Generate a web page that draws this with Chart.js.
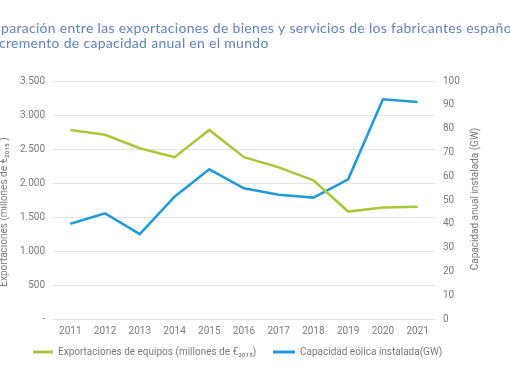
<!DOCTYPE html>
<html>
<head>
<meta charset="utf-8">
<script src="https://cdn.jsdelivr.net/npm/chart.js@4.4.0/dist/chart.umd.min.js"></script>
<style>
html,body{margin:0;padding:0;background:#fff;}
#wrap{width:510px;height:382px;position:relative;}
</style>
</head>
<body>
<div id="wrap"><canvas id="c" width="510" height="382"></canvas></div>
<script>
const years = ['2011','2012','2013','2014','2015','2016','2017','2018','2019','2020','2021'];
const exportaciones = [2780, 2710, 2510, 2380, 2780, 2380, 2230, 2040, 1580, 1640, 1650];
const capacidad = [40, 44.4, 35.7, 51.4, 62.9, 54.9, 52.2, 51.0, 58.7, 92.3, 91.2];
const leftTicks = [0, 500, 1000, 1500, 2000, 2500, 3000, 3500];
const rightTicks = [0, 10, 20, 30, 40, 50, 60, 70, 80, 90, 100];
const seriesNames = ['Exportaciones de equipos (millones de €₂₀₁₅)', 'Capacidad eólica instalada(GW)'];
const titleLines = ['Comparación entre las exportaciones de bienes y servicios de los fabricantes españoles y el', 'incremento de capacidad anual en el mundo'];
const titleHidden = ['Com', 'in'];
const leftTitle = 'Exportaciones (millones de €₂₀₁₅ )';
const rightTitle = 'Capacidad anual instalada (GW)';

const GREEN = '#a8c83c';
const BLUE = '#219ad6';
const TICK = '#7a7a7a';
const FONT = 'Roboto, "Open Sans", sans-serif';

function fmt(v){
  if (v === 0) return '-';
  return String(v).replace(/\B(?=(\d{3})+(?!\d))/g, '.');
}

const extras = {
  id: 'extras',
  afterDraw(chart){
    const ctx = chart.ctx;
    ctx.save();
    // Title
    ctx.fillStyle = '#6283b8';
    ctx.font = '14px Lato, "Open Sans", sans-serif';
    try { ctx.letterSpacing = '0.3px'; } catch(e) {}
    ctx.textBaseline = 'alphabetic';
    ctx.textAlign = 'left';
    const y0 = [33, 48];
    const xOff = [1, -1];
    titleLines.forEach((t, i) => {
      const hw = ctx.measureText(titleHidden[i]).width;
      ctx.fillText(t, xOff[i] - hw, y0[i]);
    });
    try { ctx.letterSpacing = '0px'; } catch(e) {}
    // Axis titles
    ctx.fillStyle = TICK;
    ctx.font = '10px ' + FONT;
    ctx.textAlign = 'center';
    ctx.textBaseline = 'middle';
    ctx.save();
    ctx.translate(4, 212);
    ctx.rotate(-Math.PI / 2);
    ctx.fillText(leftTitle, 0, 0);
    ctx.restore();
    ctx.save();
    ctx.translate(475, 199);
    ctx.rotate(-Math.PI / 2);
    ctx.fillText(rightTitle, 0, 0);
    ctx.restore();
    // Legend
    const items = [
      {x: 33, w: 20, color: chart.data.datasets[0].borderColor, label: chart.data.datasets[0].label},
      {x: 273, w: 22, color: chart.data.datasets[1].borderColor, label: chart.data.datasets[1].label}
    ];
    const ly = 352;
    ctx.textAlign = 'left';
    ctx.font = '10px ' + FONT;
    items.forEach(it => {
      ctx.strokeStyle = it.color;
      ctx.lineWidth = 3;
      ctx.beginPath();
      ctx.moveTo(it.x, ly);
      ctx.lineTo(it.x + it.w, ly);
      ctx.stroke();
      ctx.fillStyle = TICK;
      ctx.fillText(it.label, it.x + it.w + 5, ly);
    });
    ctx.restore();
  }
};

new Chart(document.getElementById('c'), {
  type: 'line',
  data: {
    labels: years,
    datasets: [
      {label: seriesNames[0], data: exportaciones, borderColor: GREEN, backgroundColor: GREEN, borderWidth: 2.6, pointRadius: 0, tension: 0, yAxisID: 'y'},
      {label: seriesNames[1], data: capacidad, borderColor: BLUE, backgroundColor: BLUE, borderWidth: 2.6, pointRadius: 0, tension: 0, yAxisID: 'y1'}
    ]
  },
  options: {
    responsive: false,
    animation: false,
    layout: {padding: {top: 81, bottom: 39, left: 0, right: 0}},
    plugins: {legend: {display: false}, title: {display: false}, tooltip: {enabled: false}},
    scales: {
      x: {
        offset: true,
        grid: {display: false, drawTicks: false},
        border: {display: false},
        ticks: {color: TICK, font: {size: 10, family: FONT}, padding: 6, maxRotation: 0}
      },
      y: {
        position: 'left',
        min: 0, max: 3500,
        afterBuildTicks(s){ s.ticks = leftTicks.map(v => ({value: v})); },
        afterFit(s){ s.width = 53; },
        grid: {color: '#e3e3e3', lineWidth: 1, drawTicks: false},
        border: {display: false},
        ticks: {color: TICK, font: {size: 10, family: FONT}, padding: 8, callback: v => fmt(v)}
      },
      y1: {
        position: 'right',
        min: 0, max: 100,
        afterBuildTicks(s){ s.ticks = rightTicks.map(v => ({value: v})); },
        afterFit(s){ s.width = 75; },
        grid: {display: false, drawTicks: false},
        border: {display: false},
        ticks: {color: TICK, font: {size: 10, family: FONT}, padding: 8}
      }
    }
  },
  plugins: [extras]
});
</script>
</body>
</html>
